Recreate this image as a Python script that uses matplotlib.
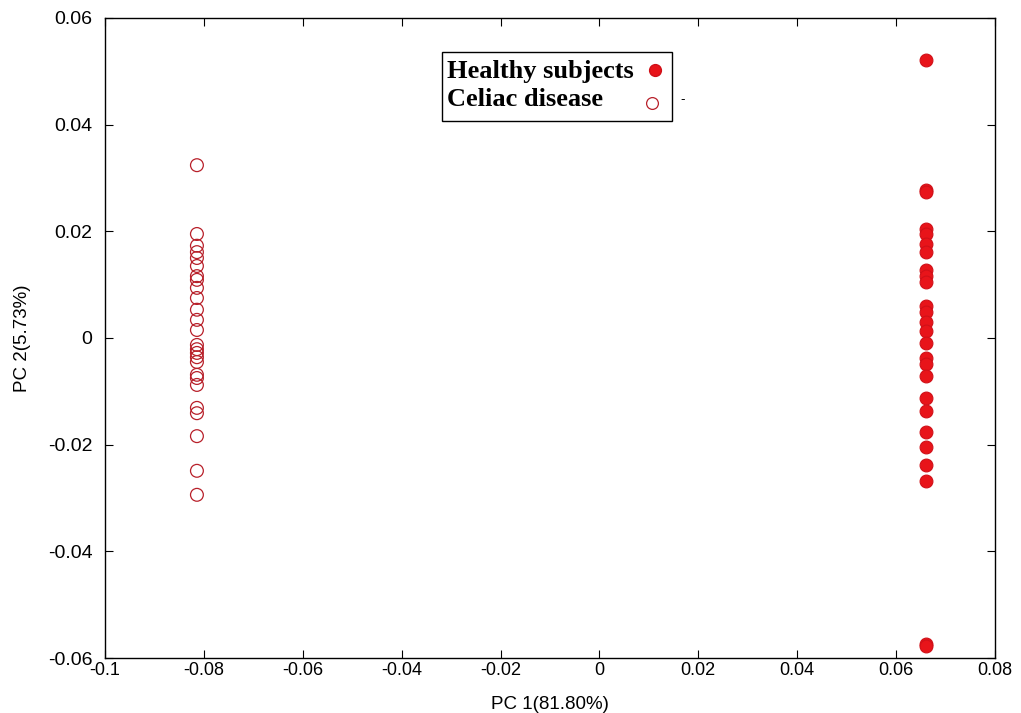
import numpy as np
import matplotlib
matplotlib.use('Agg')
import matplotlib.pyplot as plt
from matplotlib.patches import Rectangle

# PCA scores
healthy_pc1 = 0.0661
healthy_pc2 = [0.0522, 0.0277, 0.0274, 0.0205, 0.0195, 0.0176, 0.0161, 0.0128,
               0.0116, 0.0105, 0.0060, 0.0049, 0.0030, 0.0013, -0.0009, -0.0038,
               -0.0049, -0.0071, -0.0113, -0.0137, -0.0176, -0.0204, -0.0238,
               -0.0268, -0.0574, -0.0578]
celiac_pc1 = -0.0814
celiac_pc2 = [0.0324, 0.0195, 0.0173, 0.0161, 0.0150, 0.0135, 0.0116, 0.0109,
              0.0094, 0.0075, 0.0053, 0.0034, 0.0015, -0.0013, -0.0021, -0.0028,
              -0.0036, -0.0045, -0.0069, -0.0075, -0.0088, -0.0131, -0.0141,
              -0.0184, -0.0249, -0.0294]
labels = ['Healthy subjects', 'Celiac disease']

x_ticks = [-0.1, -0.08, -0.06, -0.04, -0.02, 0, 0.02, 0.04, 0.06, 0.08]
y_ticks = [-0.06, -0.04, -0.02, 0, 0.02, 0.04, 0.06]

red = '#e8141a'
dark_red = '#b8202a'

fig = plt.figure(figsize=(10.21, 7.13), dpi=100)
ax = fig.add_axes([0.1028, 0.0771, 0.8717, 0.8977])

ax.scatter([healthy_pc1] * len(healthy_pc2), healthy_pc2, s=85, c=red,
           edgecolors='#d01018', linewidths=0.8)
ax.scatter([celiac_pc1] * len(celiac_pc2), celiac_pc2, s=85, facecolors='none',
           edgecolors=dark_red, linewidths=0.9)

ax.set_xlim(-0.1, 0.08)
ax.set_ylim(-0.06, 0.06)
ax.set_xticks(x_ticks)
ax.set_yticks(y_ticks)
ax.set_xticklabels([('%g' % t) for t in x_ticks], family='Liberation Sans', fontsize=13)
ax.set_yticklabels([('%g' % t) for t in y_ticks], family='Liberation Sans', fontsize=14)
ax.tick_params(direction='in', top=True, right=True, length=6, width=0.8, colors='black')
ax.tick_params(axis='y', pad=9)
ax.tick_params(axis='x', pad=3)
for sp in ax.spines.values():
    sp.set_linewidth(1.0)

ax.set_xlabel('PC 1(81.80%)', fontsize=13.5, family='Liberation Sans', labelpad=12)
ax.set_ylabel('PC 2(5.73%)', fontsize=13.5, family='Liberation Sans', labelpad=12)

# legend drawn by hand: text left, marker right, like the original
ax.add_patch(Rectangle((0.3787, 0.839), 0.2583, 0.1079, transform=ax.transAxes,
                       fill=False, edgecolor='black', linewidth=1.0, zorder=5))
ax.text(0.3843, 0.917, labels[0], transform=ax.transAxes, ha='left', va='center',
        family='Liberation Serif', weight='bold', fontsize=19)
ax.text(0.3843, 0.872, labels[1], transform=ax.transAxes, ha='left', va='center',
        family='Liberation Serif', weight='bold', fontsize=19)
ax.plot([0.618], [0.919], 'o', transform=ax.transAxes, ms=8.5, mfc=red, mec='#d01018')
ax.plot([0.6146], [0.8672], 'o', transform=ax.transAxes, ms=8.5, mfc='none', mec=dark_red,
        mew=0.9)
ax.text(0.646, 0.872, '-', transform=ax.transAxes, fontsize=9, ha='left', va='center')

fig.savefig('out.png', dpi=100)
